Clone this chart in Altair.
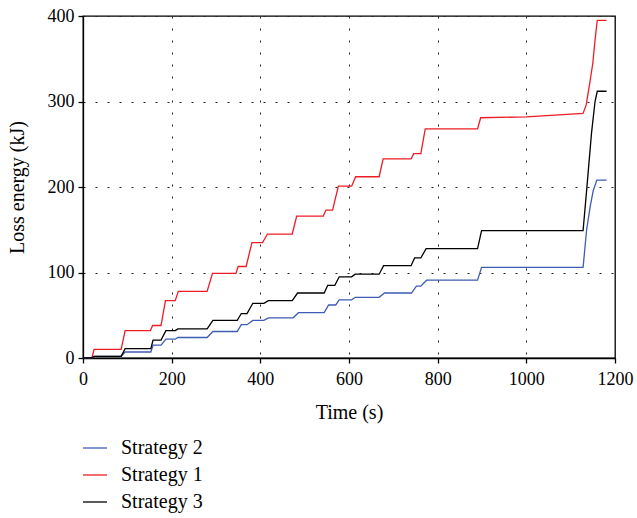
import altair as alt
import pandas as pd

# Strategy 1 (red)
s1_t = [0, 20, 25, 86, 95, 152, 157, 176, 186, 208, 215, 280, 292, 345, 350, 368, 381, 405, 416, 472, 482, 542, 548, 563, 576, 606, 615, 668, 677, 740, 746, 762, 772, 890, 897, 1000, 1128, 1135, 1142, 1150, 1155, 1160, 1181]
s1_v = [0, 0, 10, 10, 32, 32, 38, 38, 67, 67, 78, 78, 99, 99, 107, 107, 135, 135, 145, 145, 166, 166, 173, 173, 201, 201, 212, 212, 233, 233, 239, 239, 268, 268, 281, 282, 286, 296, 318, 345, 372, 395, 395]

# Strategy 2 (blue)
s2_t = [0, 20, 25, 86, 95, 153, 158, 176, 187, 208, 214, 280, 293, 348, 357, 370, 383, 408, 418, 474, 486, 544, 554, 570, 578, 606, 614, 668, 680, 741, 752, 762, 775, 890, 899, 1128, 1136, 1144, 1151, 1159, 1181]
s2_v = [0, 0, 2, 2, 7, 7, 15, 15, 22, 22, 24, 24, 31, 31, 39, 39, 44, 44, 47, 47, 53, 53, 62, 62, 68, 68, 71, 71, 76, 76, 84, 84, 91, 91, 106, 106, 150, 177, 196, 208, 208]

# Strategy 3 (black)
s3_t = [0, 20, 25, 86, 95, 153, 158, 176, 187, 208, 214, 280, 293, 348, 357, 370, 383, 408, 418, 472, 484, 544, 552, 568, 578, 606, 614, 668, 678, 740, 748, 762, 774, 890, 899, 1128, 1136, 1147, 1155, 1160, 1181]
s3_v = [0, 0, 2, 2, 11, 11, 21, 21, 32, 32, 34, 34, 44, 44, 52, 52, 64, 64, 67, 67, 76, 76, 85, 85, 95, 95, 98, 98, 108, 108, 117, 117, 128, 128, 149, 149, 196, 263, 300, 312, 312]

series_names = ["Strategy 2", "Strategy 1", "Strategy 3"]
series_colors = ["#3d5cb4", "#ee1c25", "#000000"]

rows = []
for name, ts, vs in [("Strategy 1", s1_t, s1_v), ("Strategy 2", s2_t, s2_v), ("Strategy 3", s3_t, s3_v)]:
    for i, (t, v) in enumerate(zip(ts, vs)):
        rows.append({"series": name, "time": t, "energy": v, "i": i})
df = pd.DataFrame(rows)

FONT = "Liberation Serif"

common_axis = dict(
    grid=True, gridDash=[2, 10], gridColor="#222", gridWidth=1,
    tickSize=5, format="d", labelFlush=False, labelOverlap=False,
    labelFont=FONT, labelFontSize=18, labelColor="black",
    titleFont=FONT, titleFontSize=20, titleFontWeight="normal", titleColor="black",
    domainColor="black", domainWidth=1.3, tickColor="black", tickWidth=1.3,
)

chart = alt.Chart(df).mark_line(strokeWidth=1.3).encode(
    x=alt.X("time:Q", scale=alt.Scale(domain=[0, 1200], nice=False),
            axis=alt.Axis(title="Time (s)", values=[0, 200, 400, 600, 800, 1000, 1200],
                          labelPadding=7, titlePadding=14, **common_axis)),
    y=alt.Y("energy:Q", scale=alt.Scale(domain=[0, 400], nice=False),
            axis=alt.Axis(title="Loss energy (kJ)", values=[0, 100, 200, 300, 400],
                          labelPadding=4, titlePadding=20, **common_axis)),
    color=alt.Color("series:N",
                    scale=alt.Scale(domain=series_names, range=series_colors),
                    legend=alt.Legend(title=None, orient="none", legendX=-1, legendY=419,
                                      symbolType="stroke", symbolSize=576, symbolStrokeWidth=1.3,
                                      labelFont=FONT, labelFontSize=20, labelOffset=13, labelColor="black",
                                      rowPadding=4, padding=0)),
    detail="series:N",
    order="i:Q",
).properties(
    width=532, height=342,
    background="white",
    autosize=alt.AutoSizeParams(type="none"),
    padding={"left": 83, "top": 16, "right": 22, "bottom": 160},
).configure_view(
    stroke="black", strokeWidth=1.3
)

chart.save("out.html", embed_options={"renderer": "svg", "actions": False})
